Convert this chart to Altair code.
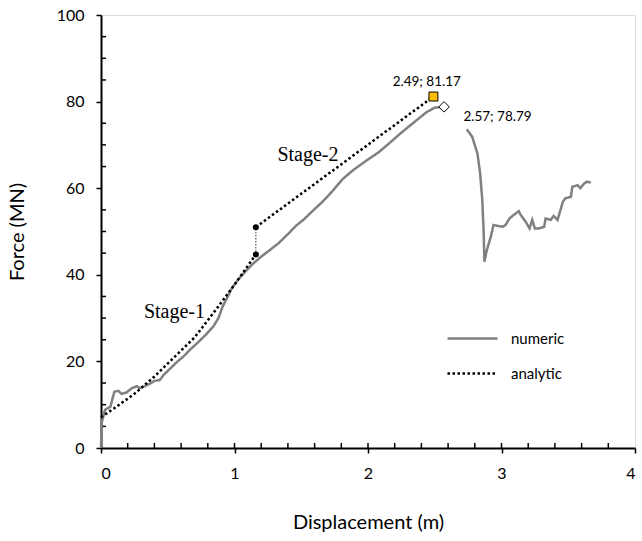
import altair as alt
import pandas as pd

# ---- numeric (FEM) curve, two visible segments (label hides a short piece) ----
num_x1 = [0, 0.005, 0.03, 0.07, 0.10, 0.13, 0.155, 0.19, 0.23, 0.27, 0.29, 0.33, 0.37, 0.40,
          0.44, 0.47, 0.52, 0.57, 0.62, 0.67, 0.72, 0.78, 0.84, 0.88, 0.91, 0.95, 0.98, 1.03,
          1.08, 1.14, 1.20, 1.26, 1.33, 1.40, 1.46, 1.52, 1.58, 1.66, 1.73, 1.81, 1.89, 1.98,
          2.08, 2.16, 2.23, 2.30, 2.38, 2.44, 2.50, 2.57, 2.59]
num_y1 = [0, 5.8, 8.8, 9.5, 13.0, 13.2, 12.5, 12.8, 13.8, 14.3, 13.8, 14.3, 14.9, 15.5,
          15.7, 16.9, 18.4, 19.9, 21.2, 22.8, 24.2, 26.0, 28.0, 30.0, 32.6, 35.0, 36.9, 39.0,
          40.7, 42.6, 44.2, 45.6, 47.3, 49.4, 51.3, 52.8, 54.6, 56.9, 59.2, 62.1, 64.2, 66.2,
          68.3, 70.4, 72.3, 74.1, 76.1, 77.6, 78.6, 78.8, 78.5]
num_x2 = [2.74, 2.78, 2.82, 2.84, 2.856, 2.866, 2.872, 2.88, 2.89, 2.92, 2.94, 2.97, 3.01,
          3.03, 3.06, 3.09, 3.13, 3.14, 3.18, 3.21, 3.23, 3.25, 3.28, 3.32, 3.33, 3.37, 3.39,
          3.42, 3.46, 3.48, 3.52, 3.53, 3.57, 3.59, 3.62, 3.64, 3.67]
num_y2 = [73.6, 71.9, 68.0, 63.4, 57.3, 50.2, 43.0, 44.2, 45.7, 48.8, 51.5, 51.3, 51.1,
          51.5, 53.0, 53.8, 54.7, 54.0, 52.3, 50.7, 52.7, 50.7, 50.7, 51.1, 53.0, 52.7, 53.6,
          52.7, 56.9, 57.7, 58.0, 60.3, 60.7, 60.0, 61.1, 61.5, 61.3]

# ---- analytic curve ----
st1_x = [0, 0.10, 0.25, 0.40, 0.55, 0.70, 0.86, 1.00, 1.16]
st1_y = [7.1, 9.2, 12.5, 16.5, 21.0, 25.5, 31.9, 37.7, 44.7]
st2_x = [1.16, 2.49]
st2_y = [51.0, 81.17]

# markers
jump_x = [1.16, 1.16]
jump_y = [44.7, 51.0]
peak_an = (2.49, 81.17)
peak_num = (2.57, 78.79)

# annotations
stage_labels = ["Stage-1", "Stage-2"]
stage_lx = [0.55, 1.55]
stage_ly = [31.5, 67.7]
peak_labels = ["2.49; 81.17", "2.57; 78.79"]
peak_lx = [2.44, 2.97]
peak_ly = [84.6, 76.4]

x_minor = [round(0.2 * i, 1) for i in range(1, 20)]
y_minor = [v for v in range(5, 100, 5) if v % 20 != 0]

W, H = 534, 433

rows = []
i = 0
for x, y in zip(num_x1, num_y1):
    rows.append(dict(x=x, y=y, series="numeric", seg="n1", idx=i)); i += 1
for x, y in zip(num_x2, num_y2):
    rows.append(dict(x=x, y=y, series="numeric", seg="n2", idx=i)); i += 1
for x, y in zip(st1_x, st1_y):
    rows.append(dict(x=x, y=y, series="analytic", seg="a1", idx=i)); i += 1
for x, y in zip(st2_x, st2_y):
    rows.append(dict(x=x, y=y, series="analytic", seg="a2", idx=i)); i += 1
lines_df = pd.DataFrame(rows)

xs = alt.Scale(domain=[0, 4], nice=False, zero=False)
ys = alt.Scale(domain=[0, 100], nice=False, zero=False)

FONT = "Lato"

legend_def = alt.Legend(
    title=None, orient="none", legendX=345, legendY=297,
    symbolType="stroke", symbolSize=2500, symbolStrokeWidth=2.5,
    labelFont=FONT, labelFontSize=15, labelColor="#000000",
    labelOffset=12, rowPadding=-3,
)

lines = alt.Chart(lines_df).mark_line(strokeWidth=2.5).encode(
    x=alt.X("x:Q", scale=xs, axis=alt.Axis(
        values=[0, 1, 2, 3, 4], format=".0f", title="Displacement (m)", grid=False,
        domainColor="#000000", domainWidth=2, tickColor="#000000", tickSize=5, tickWidth=1.5,
        labelFont=FONT, labelFontSize=16, labelColor="#000000", labelPadding=12,
        titleFont=FONT, titleFontSize=20, titleFontWeight="normal", titleColor="#000000",
        titlePadding=31)),
    y=alt.Y("y:Q", scale=ys, axis=alt.Axis(
        values=[0, 20, 40, 60, 80, 100], format=".0f", title="Force (MN)", grid=False,
        domainColor="#000000", domainWidth=2, tickColor="#000000", tickSize=5, tickWidth=1.5,
        labelFont=FONT, labelFontSize=16, labelColor="#000000", labelPadding=12,
        titleFont=FONT, titleFontSize=20, titleFontWeight="normal", titleColor="#000000",
        titlePadding=29)),
    color=alt.Color("series:N", scale=alt.Scale(domain=["numeric", "analytic"],
                                                range=["#808080", "#000000"]), legend=legend_def),
    strokeDash=alt.StrokeDash("series:N", scale=alt.Scale(domain=["numeric", "analytic"],
                                                          range=[[1, 0], [2.5, 2.5]]), legend=legend_def),
    detail="seg:N",
    order="idx:Q",
)

jump_df = pd.DataFrame({"x": jump_x, "y": jump_y})
connector = alt.Chart(jump_df).mark_line(strokeWidth=1, strokeDash=[1.5, 1.5], color="#333333").encode(
    x=alt.X("x:Q", scale=xs), y=alt.Y("y:Q", scale=ys))
dots = alt.Chart(jump_df).mark_point(filled=True, size=36, color="#000000", opacity=1).encode(
    x=alt.X("x:Q", scale=xs), y=alt.Y("y:Q", scale=ys))

sq = alt.Chart(pd.DataFrame({"x": [peak_an[0]], "y": [peak_an[1]]})).mark_point(
    shape="square", size=80, filled=True, fill="#FFC000", stroke="#000000", strokeWidth=1, opacity=1
).encode(x=alt.X("x:Q", scale=xs), y=alt.Y("y:Q", scale=ys))
dm = alt.Chart(pd.DataFrame({"x": [peak_num[0]], "y": [peak_num[1]]})).mark_point(
    shape="diamond", size=110, filled=True, fill="#FFFFFF", stroke="#000000", strokeWidth=1, opacity=1
).encode(x=alt.X("x:Q", scale=xs), y=alt.Y("y:Q", scale=ys))

stage_txt = alt.Chart(pd.DataFrame({"x": stage_lx, "y": stage_ly, "t": stage_labels})).mark_text(
    font="Liberation Serif", fontSize=20, color="#000000", align="center", baseline="middle"
).encode(x=alt.X("x:Q", scale=xs), y=alt.Y("y:Q", scale=ys), text="t:N")

peak_txt = alt.Chart(pd.DataFrame({"x": peak_lx, "y": peak_ly, "t": peak_labels})).mark_text(
    font=FONT, fontSize=13.5, color="#000000", align="center", baseline="middle"
).encode(x=alt.X("x:Q", scale=xs), y=alt.Y("y:Q", scale=ys), text="t:N")

xminor = alt.Chart(pd.DataFrame({"t": x_minor})).mark_rule(color="#000000", strokeWidth=1.5).encode(
    x=alt.X("t:Q", scale=xs), y=alt.value(H), y2=alt.value(H - 5))
yminor = alt.Chart(pd.DataFrame({"t": y_minor})).mark_rule(color="#000000", strokeWidth=1.5).encode(
    y=alt.Y("t:Q", scale=ys), x=alt.value(0), x2=alt.value(5))

chart = alt.layer(
    xminor, yminor, lines, connector, dots, sq, dm, stage_txt, peak_txt
).properties(
    width=W, height=H,
    autosize=alt.AutoSizeParams(type="none"),
    padding={"left": 101, "top": 15, "right": 7, "bottom": 93},
).configure_view(
    stroke="#595959", strokeWidth=1
).configure(background="#FFFFFF")

chart.save("out.html", embed_options={"renderer": "svg", "actions": False})
